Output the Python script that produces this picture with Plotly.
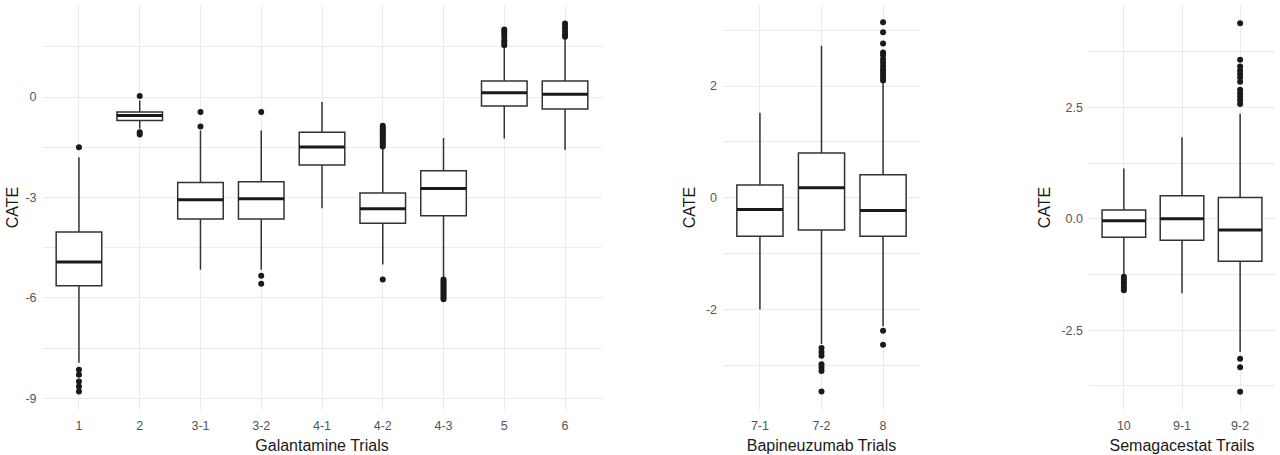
import plotly.graph_objects as go

# ---------------- data ----------------
gal_cats = ["1", "2", "3-1", "3-2", "4-1", "4-2", "4-3", "5", "6"]
gal_q1 = [-5.64, -0.70, -3.64, -3.64, -2.03, -3.77, -3.55, -0.27, -0.36]
gal_med = [-4.93, -0.55, -3.07, -3.04, -1.49, -3.34, -2.73, 0.13, 0.08]
gal_q3 = [-4.03, -0.45, -2.55, -2.53, -1.05, -2.87, -2.20, 0.48, 0.48]
gal_lo = [-7.94, -0.95, -5.16, -5.16, -3.32, -5.00, -5.40, -1.24, -1.58]
gal_hi = [-1.80, -0.10, -1.00, -1.00, -0.15, -1.55, -1.22, 1.50, 1.75]
gal_out = {
    "1": [-1.5, -8.15, -8.3, -8.5, -8.65, -8.8],
    "2": [0.03, -1.05, -1.12],
    "3-1": [-0.45, -0.88],
    "3-2": [-0.45, -5.34, -5.58],
    "4-2": [-0.86, -0.92, -0.98, -1.03, -1.08, -1.13, -1.18, -1.24, -1.30,
            -1.36, -1.42, -1.48, -5.45],
    "4-3": [-5.45, -5.50, -5.56, -5.62, -5.68, -5.74, -5.80, -5.86, -5.92,
            -5.98, -6.04],
    "5": [1.55, 1.62, 1.70, 1.80, 1.88, 1.95, 2.02],
    "6": [1.80, 1.87, 1.95, 2.05, 2.12, 2.20],
}

bap_cats = ["7-1", "7-2", "8"]
bap_q1 = [-0.69, -0.58, -0.69]
bap_med = [-0.21, 0.18, -0.23]
bap_q3 = [0.23, 0.80, 0.41]
bap_lo = [-2.00, -2.62, -2.30]
bap_hi = [1.52, 2.72, 2.05]
bap_out = {
    "7-2": [-2.69, -2.76, -2.83, -2.98, -3.04, -3.10, -3.47],
    "8": [2.10, 2.15, 2.20, 2.25, 2.30, 2.36, 2.42, 2.48, 2.55, 2.60, 2.76,
          2.96, 3.14, -2.38, -2.63],
}

sem_cats = ["10", "9-1", "9-2"]
sem_q1 = [-0.41, -0.48, -0.95]
sem_med = [-0.04, 0.00, -0.25]
sem_q3 = [0.20, 0.52, 0.48]
sem_lo = [-1.28, -1.67, -2.99]
sem_hi = [1.13, 1.83, 2.36]
sem_out = {
    "10": [-1.30, -1.36, -1.42, -1.48, -1.54, -1.60],
    "9-2": [4.39, 3.57, 3.42, 3.33, 3.25, 3.17, 3.08, 2.90, 2.82, 2.74, 2.66,
            2.58, -3.14, -3.33, -3.88],
}

y_titles = ["CATE", "CATE", "CATE"]
x_titles = ["Galantamine Trials", "Bapineuzumab Trials", "Semagacestat Trails"]
gal_ticks = [0, -3, -6, -9]
bap_ticks = [2, 0, -2]
sem_ticks = [2.5, 0.0, -2.5]
gal_ticktext = ["0", "-3", "-6", "-9"]
bap_ticktext = ["2", "0", "-2"]
sem_ticktext = ["2.5", "0.0", "-2.5"]

# ---------------- figure ----------------
LINE = "#333333"
GRID = "#ebebeb"
FONT = "Liberation Sans, Arial, sans-serif"
BOXW = 0.75

fig = go.Figure()

panels = [
    (gal_cats, gal_q1, gal_med, gal_q3, gal_lo, gal_hi, gal_out, "x", "y"),
    (bap_cats, bap_q1, bap_med, bap_q3, bap_lo, bap_hi, bap_out, "x2", "y2"),
    (sem_cats, sem_q1, sem_med, sem_q3, sem_lo, sem_hi, sem_out, "x3", "y3"),
]

for cats, q1, med, q3, lo, hi, outs, xa, ya in panels:
    fig.add_trace(go.Box(
        x=cats, q1=q1, median=med, q3=q3, lowerfence=lo, upperfence=hi,
        fillcolor="white", line=dict(color=LINE, width=1.5),
        whiskerwidth=0, width=BOXW, boxpoints=False, showlegend=False,
        xaxis=xa, yaxis=ya, hoverinfo="skip",
    ))
    ox, oy = [], []
    for c, vals in outs.items():
        ox += [c] * len(vals)
        oy += vals
    fig.add_trace(go.Scatter(
        x=ox, y=oy, mode="markers",
        marker=dict(color="#1a1a1a", size=6),
        showlegend=False, xaxis=xa, yaxis=ya, hoverinfo="skip",
    ))
    # thicker median line (ggplot style)
    for i, m in enumerate(med):
        fig.add_shape(type="line", xref=xa, yref=ya,
                      x0=i - BOXW / 2, x1=i + BOXW / 2, y0=m, y1=m,
                      line=dict(color="#1a1a1a", width=3))

ydom = [1 - 410 / 455, 1 - 5 / 455]
xdoms = [[42.5 / 1280, 601.5 / 1280], [723 / 1280, 920 / 1280], [1089 / 1280, 1275 / 1280]]
yranges = [[-9.35, 2.75], [-3.8, 3.45], [-4.29, 4.8]]
ytick_sets = [(gal_ticks, gal_ticktext, 1.5), (bap_ticks, bap_ticktext, 1.0),
              (sem_ticks, sem_ticktext, 1.25)]
ytitle_standoff = [2, 6, 6]

tickfont = dict(family=FONT, size=12.5, color="#555555")
titlefont = dict(family=FONT, size=16, color="#1a1a1a")

layout = dict(
    width=1280, height=455,
    margin=dict(l=0, r=0, t=0, b=0),
    paper_bgcolor="white", plot_bgcolor="white",
    showlegend=False,
)
for k in range(3):
    sx = "" if k == 0 else str(k + 1)
    cats = panels[k][0]
    layout["xaxis" + sx] = dict(
        domain=xdoms[k], anchor="y" + sx, type="category",
        range=[-0.6, len(cats) - 0.4],
        showgrid=True, gridcolor=GRID, gridwidth=1, zeroline=False,
        showline=False, ticks="", tickfont=tickfont, ticklabelstandoff=6,
        title=dict(text=x_titles[k], font=titlefont, standoff=8),
    )
    tv, tt, mn = ytick_sets[k]
    layout["yaxis" + sx] = dict(
        domain=ydom, anchor="x" + sx, range=yranges[k],
        tickmode="array", tickvals=tv, ticktext=tt,
        showgrid=True, gridcolor=GRID, gridwidth=1, zeroline=False,
        showline=False, ticks="", tickfont=tickfont, ticklabelstandoff=5,
        minor=dict(showgrid=True, gridcolor=GRID, gridwidth=0.6,
                   tickmode="linear", tick0=0, dtick=mn),
        title=dict(text=y_titles[k], font=titlefont, standoff=ytitle_standoff[k]),
    )
fig.update_layout(**layout)

fig.write_html("out.html", config={"displayModeBar": False},
               post_script="document.body.style.margin='0';")
